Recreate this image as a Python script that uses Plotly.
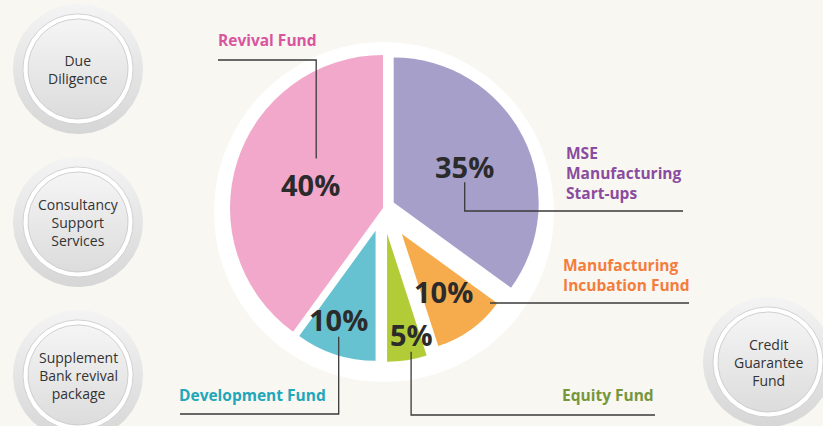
import math
import plotly.graph_objects as go

W, H = 823, 426
BG = "#f8f7f2"

# ---------------- data ----------------
labels = ["MSE Manufacturing Start-ups", "Manufacturing Incubation Fund",
          "Equity Fund", "Development Fund", "Revival Fund"]
values = [35, 10, 5, 10, 40]
label_lines = [["MSE", "Manufacturing", "Start-ups"],
               ["Manufacturing", "Incubation Fund"],
               ["Equity Fund"],
               ["Development Fund"],
               ["Revival Fund"]]
service_lines = [["Due", "Diligence"],
                 ["Consultancy", "Support", "Services"],
                 ["Supplement", "Bank revival", "package"],
                 ["Credit", "Guarantee", "Fund"]]

# ---------------- styles / layout ----------------
slice_colors = ["#a59fca", "#f6ac4c", "#b1cc37", "#66c1d1", "#f1a8cb"]
name_colors = ["#8a4c9e", "#f47d3c", "#77963a", "#22a6b9", "#d9559d"]
pie_center = (383, 208)
slice_radius = [145, 118, 128, 130, 153]
slice_pull = [12, 32, 26, 24, 0]
pct_frac = [0.55, 0.6, 0.8, 0.72, 0.5]
pct_shift = [(0, 0), (0, 0), (8, 0), (-8, 0), (0, 0)]
# (x, y of block centre, anchor)
name_pos = [(564, 173, "left"), (561, 275, "left"), (560, 395, "left"),
            (177, 395, "left"), (267, 40, "center")]
service_centers = [(78, 69), (78, 222), (78, 375), (768, 362)]

fig = go.Figure()


def circle_xy(cx, cy, r, n=160):
    xs = [cx + r * math.cos(2 * math.pi * k / n) for k in range(n + 1)]
    ys = [cy + r * math.sin(2 * math.pi * k / n) for k in range(n + 1)]
    return xs, ys


def add_circle(cx, cy, r, top, bottom, line_color=None, line_width=0):
    xs, ys = circle_xy(cx, cy, r)
    fig.add_trace(go.Scatter(
        x=xs, y=ys, mode="lines", fill="toself",
        fillgradient=dict(type="vertical", start=cy - r, stop=cy + r,
                          colorscale=[[0, top], [1, bottom]]),
        line=dict(color=line_color or "rgba(0,0,0,0)", width=line_width),
        hoverinfo="skip", showlegend=False))


# white disc behind the pie
add_circle(384, 212, 170, "#ffffff", "#ffffff")

# service circles
for (cx, cy) in service_centers:
    add_circle(cx, cy, 65, "#f4f4f4", "#d6d6d6")
    add_circle(cx, cy, 55, "#ffffff", "#ffffff", "#d2d2d2", 1)
    add_circle(cx, cy, 50, "#f5f5f5", "#dcdcdc", "#c4c4c4", 0.8)

# pie slices
total = sum(values)
annotations = []
shapes = []
cum = 0
pct_pos = []
for i, v in enumerate(values):
    a0 = 360 * cum / total
    a1 = 360 * (cum + v) / total
    cum += v
    mid = math.radians((a0 + a1) / 2)
    dx, dy = math.sin(mid), -math.cos(mid)
    ax = pie_center[0] + slice_pull[i] * dx
    ay = pie_center[1] + slice_pull[i] * dy
    r = slice_radius[i]
    cols = [slice_colors[j] if j == i else "rgba(0,0,0,0)" for j in range(len(values))]
    fig.add_trace(go.Pie(
        labels=labels, values=values, sort=False, direction="clockwise",
        rotation=0, marker=dict(colors=cols, line=dict(width=0)),
        textinfo="none", hoverinfo="label+percent", showlegend=False,
        domain=dict(x=[(ax - r) / W, (ax + r) / W],
                    y=[1 - (ay + r) / H, 1 - (ay - r) / H])))
    px = ax + pct_frac[i] * r * dx + pct_shift[i][0]
    py = ay + pct_frac[i] * r * dy + pct_shift[i][1]
    pct_pos.append((px, py))
    annotations.append(dict(
        x=px, y=py, xref="x", yref="y", text=f"{v}%", showarrow=False,
        font=dict(family="Open Sans", size=29, color="#2b2b2b", weight="bold")))

# fund names
for i, lines in enumerate(label_lines):
    x0, y0, anc = name_pos[i]
    annotations.append(dict(
        x=x0, y=y0, xref="x", yref="y", text="<br>".join(lines),
        showarrow=False, xanchor=anc, yanchor="middle", align=anc,
        font=dict(family="Open Sans", size=15.5, color=name_colors[i],
                  weight="bold")))

# service texts
for (cx, cy), lines in zip(service_centers, service_lines):
    annotations.append(dict(
        x=cx, y=cy, xref="x", yref="y", text="<br>".join(lines),
        showarrow=False, xanchor="center", yanchor="middle", align="center",
        font=dict(family="Open Sans", size=14, color="#333333")))

# leader lines
LC = dict(color="#3a3a3a", width=1.3)
mx, my = pct_pos[0]
gx, gy = pct_pos[2]
tx, ty = pct_pos[3]
px4, py4 = pct_pos[4]
paths = [
    f"M 218 60 L {px4 + 6:.1f} 60 L {px4 + 6:.1f} {py4 - 26:.1f}",
    f"M {mx:.1f} {my + 16:.1f} L {mx:.1f} 211 L 683 211",
    "M 490 303 L 689 303",
    f"M {gx:.1f} {gy + 17:.1f} L {gx:.1f} 415 L 655 415",
    f"M {tx:.1f} {ty + 17:.1f} L {tx:.1f} 414 L 180 414",
]
for p in paths:
    shapes.append(dict(type="path", path=p, xref="x", yref="y",
                       line=LC, layer="above"))

fig.update_layout(
    width=W, height=H, margin=dict(l=0, r=0, t=0, b=0),
    paper_bgcolor=BG, plot_bgcolor=BG,
    xaxis=dict(range=[0, W], visible=False, fixedrange=True),
    yaxis=dict(range=[H, 0], visible=False, fixedrange=True),
    annotations=annotations, shapes=shapes, showlegend=False,
)

fig.write_html(
    "out.html",
    config={"displayModeBar": False},
    post_script="document.body.style.margin='0';"
                "document.body.style.overflow='hidden';",
)
